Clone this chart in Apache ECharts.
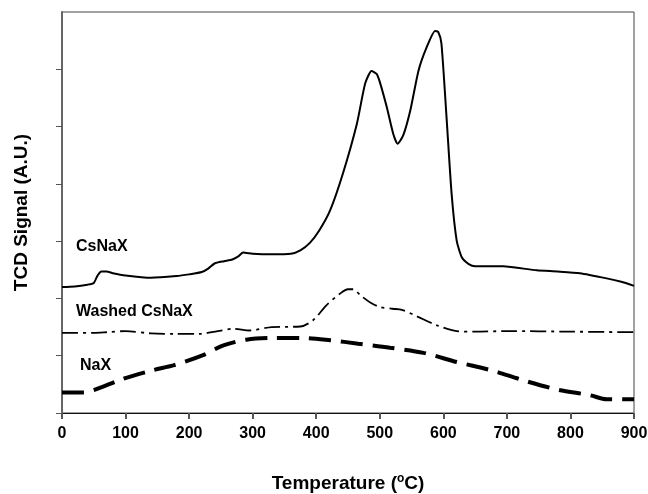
<!DOCTYPE html>
<html>
<head>
<meta charset="utf-8">
<script src="https://cdn.jsdelivr.net/npm/echarts@6/dist/echarts.min.js"></script>
<style>
html,body{margin:0;padding:0;background:#fff;}
#chart{width:648px;height:494px;}
</style>
</head>
<body>
<div id="chart"></div>
<script>
// Temperature (°C) and TCD signal (A.U.)
const csnaxT = [0,20,40,50,56,62,70,80,100,140,180,200,220,230,240,255,268,278,285,300,330,360,375,390,405,422,442,464,477,487,495,500,511,521,528,537,548,561,574,587,592,597,605,613,621,629,640,650,694,747,780,815,857,880,900];
const csnaxV = [2.20,2.21,2.24,2.27,2.40,2.47,2.47,2.44,2.40,2.36,2.39,2.42,2.46,2.52,2.61,2.65,2.68,2.74,2.80,2.78,2.77,2.78,2.84,2.97,3.19,3.54,4.18,5.05,5.75,5.97,5.92,5.78,5.34,4.88,4.70,4.85,5.28,5.98,6.39,6.67,6.65,6.45,5.17,3.83,3.01,2.72,2.60,2.56,2.56,2.49,2.47,2.44,2.35,2.29,2.22];

const washedT = [0,50,70,100,140,180,217,245,270,295,330,375,395,416,437,450,458,470,485,500,520,535,558,590,621,650,700,800,900];
const washedV = [1.40,1.40,1.41,1.43,1.39,1.38,1.38,1.43,1.47,1.44,1.50,1.51,1.62,1.88,2.08,2.16,2.16,2.05,1.93,1.85,1.82,1.80,1.69,1.53,1.43,1.42,1.43,1.42,1.41];

const naxT = [0,33,50,97,144,175,222,254,290,333,375,422,466,516,569,621,674,726,779,831,857,900];
const naxV = [0.36,0.36,0.40,0.60,0.75,0.83,1.01,1.18,1.28,1.31,1.31,1.27,1.21,1.14,1.05,0.89,0.75,0.57,0.41,0.31,0.24,0.24];

const xTicks = [0,100,200,300,400,500,600,700,800,900];
const yTicks = [0,1,2,3,4,5,6];
const seriesNames = ['CsNaX','Washed CsNaX','NaX'];

const pair = (t, v) => t.map((x, i) => [x, v[i]]);
const FONT = '"Liberation Sans", Arial, sans-serif';

const chart = echarts.init(document.getElementById('chart'), null, {renderer: 'canvas'});
chart.setOption({
  animation: false,
  backgroundColor: '#fff',
  grid: {left: 62, right: 14, top: 12, bottom: 81, outerBoundsMode: 'none', containLabel: false,
    show: true, borderColor: '#444', borderWidth: 1},
  xAxis: {
    type: 'value', min: 0, max: 900, interval: 100,
    axisLine: {lineStyle: {color: '#111', width: 1}},
    axisTick: {inside: false, length: 6, lineStyle: {color: '#555', width: 2}},
    axisLabel: {fontFamily: FONT, fontWeight: 'bold', fontSize: 16, color: '#000', margin: 13,
      formatter: v => xTicks.includes(v) ? String(v) : ''},
    splitLine: {show: false},
    name: '{a|Temperature (}{s|o}{a|C)}',
    nameLocation: 'middle', nameGap: 60,
    nameTextStyle: {rich: {
      a: {fontFamily: FONT, fontWeight: 'bold', fontSize: 19, color: '#000', lineHeight: 22},
      s: {fontFamily: FONT, fontWeight: 'bold', fontSize: 12, color: '#000', lineHeight: 6, verticalAlign: 'top'}
    }}
  },
  yAxis: {
    type: 'value', min: 0, max: 7, interval: 1,
    axisLine: {show: true, lineStyle: {color: '#666', width: 2}},
    axisTick: {show: true, inside: false, length: 6, customValues: yTicks, lineStyle: {color: '#555', width: 1}},
    axisLabel: {show: false},
    splitLine: {show: false},
    name: 'TCD Signal (A.U.)', nameLocation: 'middle', nameGap: 31,
    nameTextStyle: {fontFamily: FONT, fontWeight: 'bold', fontSize: 19, color: '#000'}
  },
  series: [
    {name: seriesNames[0], type: 'line', data: pair(csnaxT, csnaxV), showSymbol: false, smooth: 0.2,
      lineStyle: {color: '#000', width: 2}},
    {name: seriesNames[1], type: 'line', data: pair(washedT, washedV), showSymbol: false, smooth: 0.3,
      lineStyle: {color: '#000', width: 1.8, type: [16,5,3,5]}},
    {name: seriesNames[2], type: 'line', data: pair(naxT, naxV), showSymbol: false, smooth: 0.3,
      lineStyle: {color: '#000', width: 4, type: [22,10]}}
  ],
  graphic: [
    {type: 'text', left: 76, top: 239, style: {text: seriesNames[0], font: 'bold 16px ' + FONT, fill: '#000'}},
    {type: 'text', left: 76, top: 304, style: {text: seriesNames[1], font: 'bold 16px ' + FONT, fill: '#000'}},
    {type: 'text', left: 80, top: 358, style: {text: seriesNames[2], font: 'bold 16px ' + FONT, fill: '#000'}}
  ]
});
</script>
</body>
</html>
